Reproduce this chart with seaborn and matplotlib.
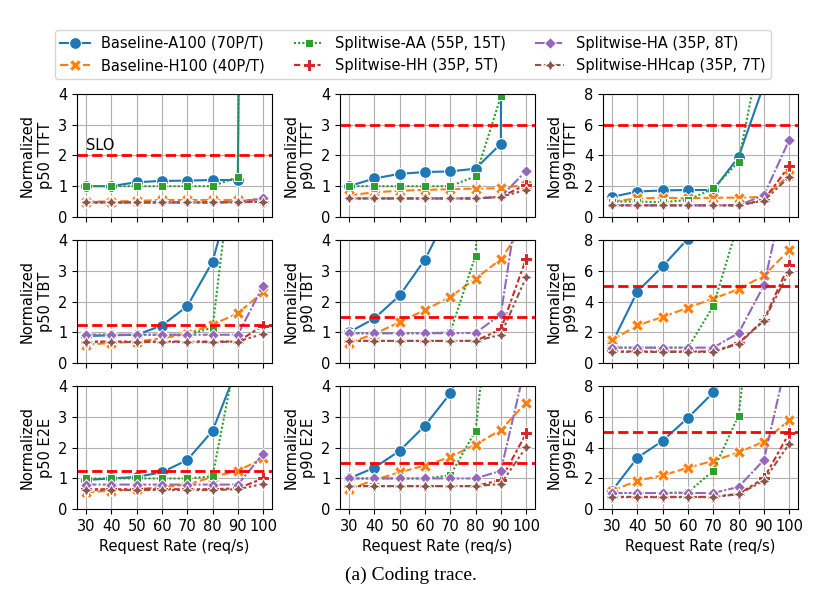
import numpy as np
import pandas as pd
import matplotlib.pyplot as plt
import seaborn as sns

rates = [30, 40, 50, 60, 70, 80, 90, 100]
systems = ["Baseline-A100 (70P/T)", "Baseline-H100 (40P/T)", "Splitwise-AA (55P, 15T)",
           "Splitwise-HH (35P, 5T)", "Splitwise-HA (35P, 8T)", "Splitwise-HHcap (35P, 7T)"]

# rows = TTFT, TBT, E2E ; cols = p50, p90, p99
metrics = ["p50 TTFT", "p90 TTFT", "p99 TTFT",
           "p50 TBT", "p90 TBT", "p99 TBT",
           "p50 E2E", "p90 E2E", "p99 E2E"]
slo = [2, 3, 6, 1.25, 1.5, 5, 1.25, 1.5, 5]
ymax = [4, 4, 8, 4, 4, 8, 4, 4, 8]

# series order: A100, H100, AA, HH, HA, HHcap
p50_ttft = [[1.0, 1.0, 1.13, 1.17, 1.18, 1.2, 1.2, 100],
            [0.5, 0.5, 0.52, 0.55, 0.55, 0.55, 0.55, 0.55],
            [1.0, 1.0, 1.0, 1.0, 1.0, 1.0, 1.3, 100],
            [0.47, 0.47, 0.47, 0.47, 0.47, 0.47, 0.48, 0.5],
            [0.47, 0.47, 0.47, 0.47, 0.47, 0.47, 0.5, 0.6],
            [0.47, 0.47, 0.47, 0.47, 0.47, 0.47, 0.47, 0.5]]
p90_ttft = [[1.0, 1.25, 1.4, 1.46, 1.48, 1.57, 2.38, 200],
            [0.7, 0.8, 0.85, 0.88, 0.9, 0.92, 0.93, 1.05],
            [1.0, 1.0, 1.0, 1.0, 1.0, 1.32, 3.92, 200],
            [0.6, 0.6, 0.6, 0.6, 0.6, 0.6, 0.65, 1.05],
            [0.6, 0.6, 0.6, 0.6, 0.6, 0.6, 0.65, 1.5],
            [0.6, 0.6, 0.6, 0.6, 0.6, 0.6, 0.65, 0.88]]
p99_ttft = [[1.3, 1.65, 1.72, 1.75, 1.75, 3.9, 8.6, 20],
            [1.0, 1.2, 1.25, 1.2, 1.25, 1.25, 1.3, 2.7],
            [1.0, 1.0, 0.95, 1.1, 1.85, 3.6, 12, 30],
            [0.75, 0.75, 0.75, 0.75, 0.75, 0.75, 1.1, 3.3],
            [0.75, 0.75, 0.75, 0.75, 0.75, 0.75, 1.4, 5.0],
            [0.75, 0.75, 0.75, 0.75, 0.75, 0.75, 1.05, 2.6]]
p50_tbt = [[0.88, 0.9, 0.92, 1.22, 1.85, 3.3, 6.3, 12],
           [0.6, 0.65, 0.7, 0.8, 0.95, 1.25, 1.62, 2.32],
           [0.92, 0.92, 0.92, 0.92, 0.92, 1.15, 8, 15],
           [0.7, 0.7, 0.7, 0.7, 0.7, 0.7, 0.7, 1.22],
           [0.92, 0.92, 0.92, 0.92, 0.92, 0.92, 0.92, 2.52],
           [0.68, 0.68, 0.68, 0.68, 0.68, 0.68, 0.7, 0.95]]
p90_tbt = [[1.0, 1.45, 2.2, 3.37, 5.0, 8, 12, 18],
           [0.65, 0.95, 1.33, 1.73, 2.15, 2.75, 3.38, 4.6],
           [0.97, 0.97, 0.97, 0.97, 1.0, 3.5, 20, 40],
           [0.72, 0.72, 0.72, 0.72, 0.72, 0.72, 1.1, 3.4],
           [0.97, 0.97, 0.97, 0.97, 0.97, 0.98, 1.58, 7],
           [0.72, 0.72, 0.72, 0.72, 0.72, 0.72, 0.92, 2.8]]
p99_tbt = [[1.3, 4.65, 6.3, 8.1, 11, 15, 20, 25],
           [1.5, 2.45, 3.0, 3.6, 4.2, 4.8, 5.7, 7.35],
           [1.0, 1.0, 1.0, 1.0, 3.7, 9.2, 15, 25],
           [0.75, 0.75, 0.75, 0.75, 0.75, 1.3, 2.8, 6.4],
           [1.0, 1.0, 1.0, 1.0, 1.0, 1.95, 5.05, 12.5],
           [0.72, 0.72, 0.72, 0.72, 0.72, 1.25, 2.75, 5.95]]
p50_e2e = [[0.95, 1.0, 1.05, 1.2, 1.6, 2.55, 4.65, 8],
           [0.55, 0.6, 0.65, 0.72, 0.8, 1.05, 1.25, 1.65],
           [1.0, 1.0, 1.0, 1.0, 1.0, 1.07, 5.3, 10],
           [0.65, 0.65, 0.65, 0.65, 0.65, 0.65, 0.68, 1.0],
           [0.8, 0.8, 0.8, 0.8, 0.8, 0.8, 0.8, 1.8],
           [0.62, 0.62, 0.62, 0.62, 0.62, 0.62, 0.65, 0.82]]
p90_e2e = [[1.0, 1.35, 1.9, 2.72, 3.77, 5.5, 8, 12],
           [0.65, 0.95, 1.2, 1.42, 1.7, 2.1, 2.58, 3.47],
           [1.0, 1.0, 1.0, 1.0, 1.1, 2.55, 10, 20],
           [0.75, 0.75, 0.75, 0.75, 0.75, 0.75, 0.95, 2.47],
           [1.0, 1.0, 1.0, 1.0, 1.0, 1.0, 1.25, 4.8],
           [0.75, 0.75, 0.75, 0.75, 0.75, 0.75, 0.82, 2.02]]
p99_e2e = [[1.2, 3.35, 4.45, 5.95, 7.6, 10, 14, 20],
           [1.2, 1.85, 2.2, 2.7, 3.15, 3.7, 4.4, 5.8],
           [1.05, 1.05, 1.05, 1.1, 2.5, 6.1, 20, 30],
           [0.8, 0.8, 0.8, 0.8, 0.8, 1.0, 2.0, 4.95],
           [1.05, 1.05, 1.05, 1.05, 1.05, 1.45, 3.2, 10.4],
           [0.78, 0.78, 0.78, 0.78, 0.78, 0.98, 1.85, 4.25]]

panels = [p50_ttft, p90_ttft, p99_ttft, p50_tbt, p90_tbt, p99_tbt, p50_e2e, p90_e2e, p99_e2e]

rows = []
for metric, panel in zip(metrics, panels):
    for system, vals in zip(systems, panel):
        for r, v in zip(rates, vals):
            rows.append({"metric": metric, "system": system, "rate": r, "value": v})
df = pd.DataFrame(rows)

plt.rcParams["axes.grid"] = True
plt.rcParams["font.family"] = ["DejaVu Sans"]
plt.rcParams["lines.markersize"] = 8.5

fig, axes = plt.subplots(3, 3, figsize=(8.21, 5.99), dpi=100, sharex=True)
fig.subplots_adjust(left=0.094, right=0.972, top=0.843, bottom=0.150, wspace=0.35, hspace=0.19)

for i, ax in enumerate(axes.flat):
    metric = metrics[i]
    sub = df[df["metric"] == metric]
    sns.lineplot(data=sub, x="rate", y="value", hue="system", style="system",
                 hue_order=systems, style_order=systems, markers=True, ax=ax)
    ax.axhline(slo[i], color="red", ls="--", lw=2)
    ax.set_ylim(0, ymax[i])
    ax.set_xticks(rates)
    ax.tick_params(labelsize=10.5)
    ax.set_ylabel("Normalized\n" + metric, fontsize=10.5)
    if i >= 6:
        ax.set_xlabel("Request Rate (req/s)", fontsize=10.5)
    else:
        ax.set_xlabel("")
    handles, labels = ax.get_legend_handles_labels()
    ax.get_legend().remove()

axes[0, 0].text(30, 2.08, "SLO", fontsize=10.5, va="bottom")

fig.legend(handles, labels, loc="upper center", bbox_to_anchor=(0.503, 0.962),
           ncol=3, fontsize=10.5)
fig.text(0.5, 0.04, "(a) Coding trace.", ha="center", va="center",
         fontsize=14, family="Liberation Serif")

plt.savefig("out.png", dpi=100)
